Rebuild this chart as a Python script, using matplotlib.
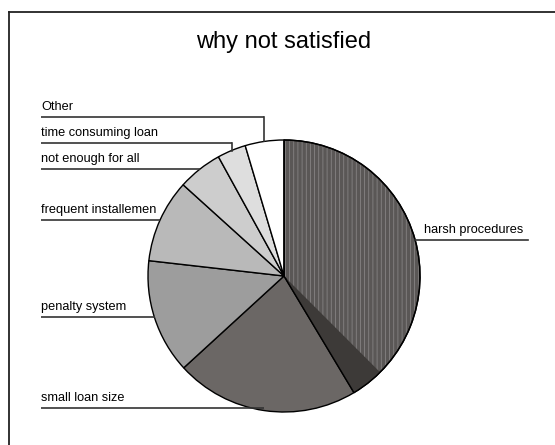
import matplotlib.pyplot as plt
import numpy as np
from matplotlib.patches import Wedge

plt.rcParams['font.family'] = ['Liberation Sans', 'DejaVu Sans']

# data, clockwise from 12 o'clock
labels = ["harsh procedures", "small loan size", "penalty system",
          "frequent installemen", "not enough for all",
          "time consuming loan", "Other"]
shares = [41.4, 21.8, 13.6, 9.9, 5.3, 3.4, 4.6]
colors = ["#5a5756", "#6b6765", "#9d9d9d", "#b9b9b9",
          "#cdcdcd", "#dedede", "#ffffff"]

# label line heights (pixels from top) and sides
label_y = [240, 408, 317, 220, 169, 143, 117]
label_side = ["right", "left", "left", "left", "left", "left", "left"]

W, H = 555, 445
cx, cy, r = 284, H - 276, 136

fig = plt.figure(figsize=(W / 100, H / 100), dpi=100)
ax = fig.add_axes([0, 0, 1, 1])

wedges, _ = ax.pie(shares, colors=colors, startangle=90, counterclock=False,
                   center=(cx, cy), radius=r, frame=True,
                   wedgeprops=dict(edgecolor="black", linewidth=1.0))
ax.set_xlim(0, W)
ax.set_ylim(0, H)
ax.set_aspect("equal")
ax.axis("off")

# darker band + fine stripes on the big slice
w0 = wedges[0]
ax.add_patch(Wedge((cx, cy), r, w0.theta1, w0.theta1 + 14, facecolor="#3d3a38",
                   edgecolor="none", zorder=w0.get_zorder() + 0.1))
plt.rcParams['hatch.linewidth'] = 0.5
ax.add_patch(Wedge((cx, cy), r - 1, w0.theta1 + 14, w0.theta2 - 0.5,
                   facecolor="none", edgecolor="#8e8c8c", linewidth=0,
                   hatch="||||", zorder=w0.get_zorder() + 0.1))
ax.add_patch(Wedge((cx, cy), r, w0.theta1, w0.theta2, facecolor="none",
                   edgecolor="black", linewidth=1.0, zorder=w0.get_zorder() + 0.2))

line_col = "#333333"
for w, lab, ly, side in zip(wedges, labels, label_y, label_side):
    mid = np.deg2rad((w.theta1 + w.theta2) / 2)
    mx = cx + r * np.cos(mid)
    my = cy + r * np.sin(mid)
    y = H - ly
    if side == "left":
        ax.plot([41, mx], [y, y], color=line_col, lw=1.2, solid_capstyle="butt")
        if abs(y - my) > 3:
            ax.plot([mx, mx], [y, my], color=line_col, lw=1.2)
        ax.text(41, y + 4, lab, fontsize=9.2, ha="left", va="bottom")
    else:
        ax.plot([mx, 528], [y, y], color=line_col, lw=1.2)
        ax.text(424, y + 4, lab, fontsize=9.2, ha="left", va="bottom")

ax.text(284, H - 42, "why not satisfied", fontsize=17, ha="center", va="center")

# outer frame (only top and left visible)
fig.add_artist(plt.Line2D([9 / W, 1], [1 - 12 / H, 1 - 12 / H], color="#222222", lw=1.3))
fig.add_artist(plt.Line2D([9 / W, 9 / W], [0, 1 - 12 / H], color="#222222", lw=1.3))

fig.savefig("out.png", dpi=100)
